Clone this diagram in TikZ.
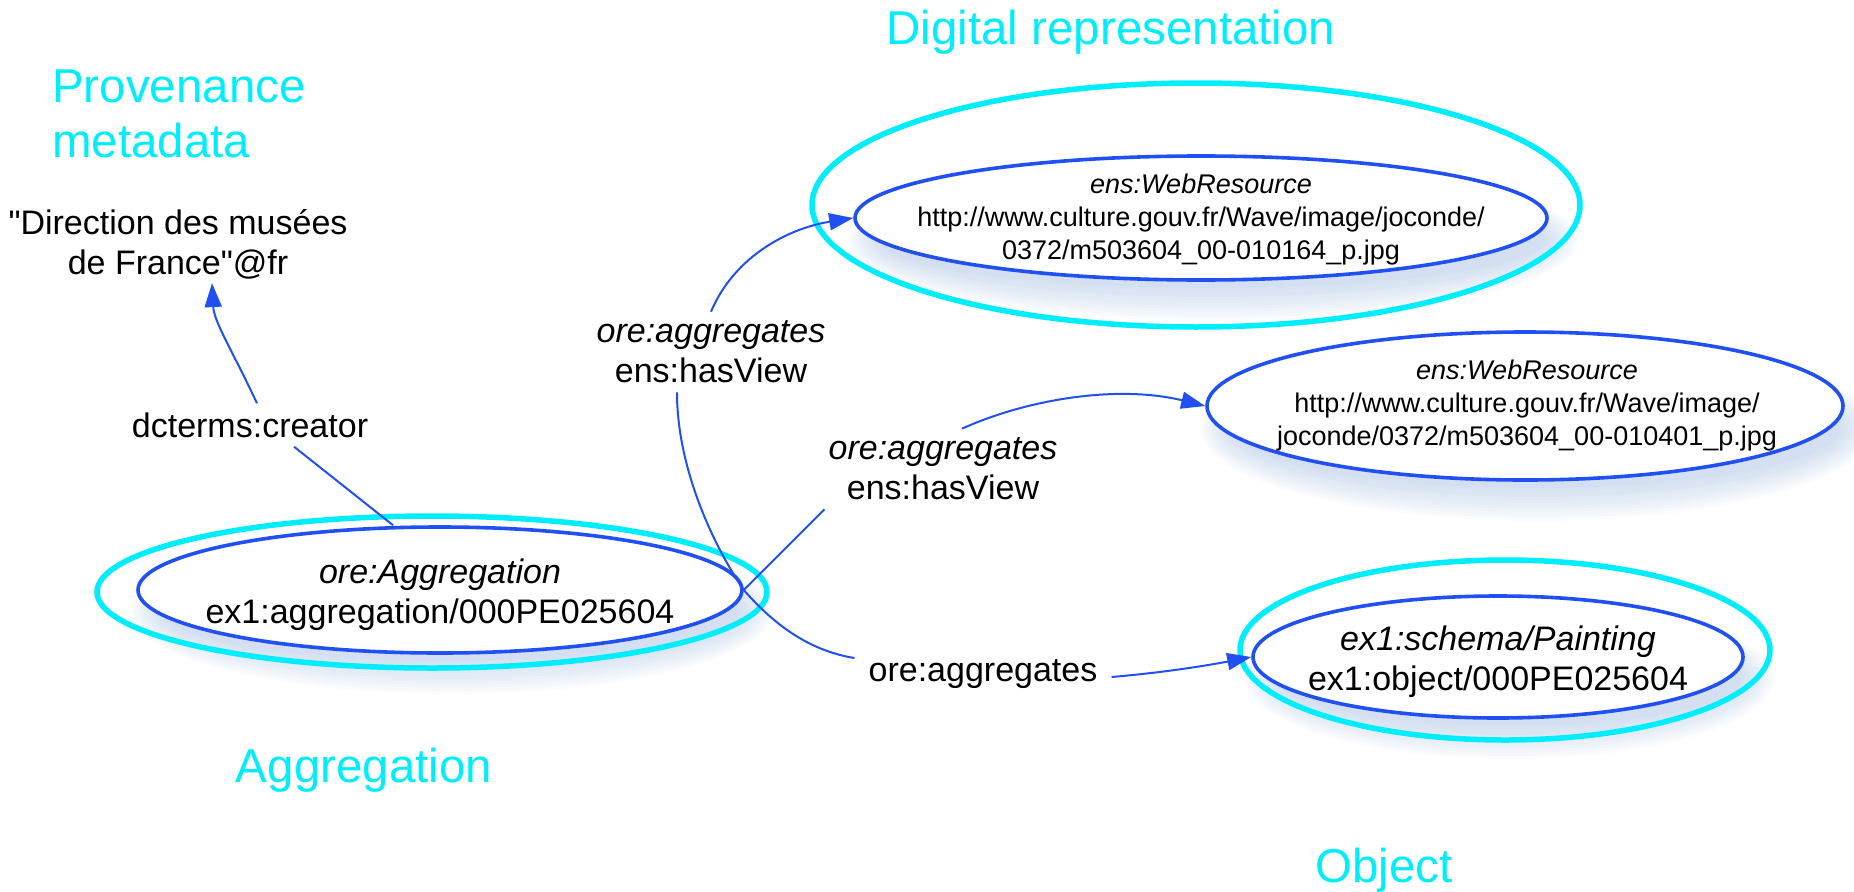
\documentclass[tikz,border=0pt]{standalone}
\usepackage{fontspec}
\setmainfont{Liberation Sans}
\usepackage{tikz}
\usetikzlibrary{calc}
\usetikzlibrary{arrows.meta}
\usetikzlibrary{shapes.geometric}
\usetikzlibrary{backgrounds}
\definecolor{myblue}{RGB}{32,80,242}
\definecolor{mycyan}{RGB}{0,238,252}
\definecolor{myshade}{RGB}{150,180,220}
\tikzset{>={Triangle[length=24pt,width=17pt]}}
\tikzset{
  resource/.style={ellipse, draw=myblue, line width=3.6pt, fill=white, inner sep=0pt},
  group/.style={ellipse, draw=mycyan, line width=5.5pt, inner sep=0pt},
  edge/.style={draw=myblue, line width=2pt},
  prop/.style={fill=white, inner xsep=14pt, inner ysep=9pt, align=center, font=\fontsize{34}{40}\selectfont},
  restext/.style={align=center, inner sep=0pt, font=\fontsize{34}{40}\selectfont},
  webtext/.style={align=center, inner sep=0pt, font=\fontsize{27}{33}\selectfont},
  literal/.style={align=center, inner sep=4pt, font=\fontsize{34}{40}\selectfont},
  title/.style={text=mycyan, inner sep=0pt, align=left, font=\fontsize{47.5}{55}\selectfont},
}

\begin{document}
\begin{tikzpicture}[x=1pt, y=-1pt]
                \useasboundingbox (0,0) rectangle (1854,891);

                % Group outlines
                \node[group, minimum width=768, minimum height=244] (grpdig) at (1196,205) {};
                \node[group, minimum width=670, minimum height=152] (grpagg) at (432,592) {};
                \node[group, minimum width=530, minimum height=180] (grpobj) at (1505,650) {};

                % Resources
                \node[resource, minimum width=604, minimum height=126,
                      label={[restext, yshift=-5pt]center:{\textit{ore:Aggregation}\\ex1:aggregation/000PE025604}}]
                      (agg) at (440,590) {};
                \node[resource, minimum width=692, minimum height=124,
                      label={[webtext, yshift=-2pt]center:{\textit{ens:WebResource}\\http://www.culture.gouv.fr/Wave/image/joconde/\\0372/m503604\_00-010164\_p.jpg}}]
                      (wr1) at (1201,218) {};
                \node[resource, minimum width=636, minimum height=148,
                      label={[webtext, xshift=2pt]center:{\textit{ens:WebResource}\\http://www.culture.gouv.fr/Wave/image/\\joconde/0372/m503604\_00-010401\_p.jpg}}]
                      (wr2) at (1525,406) {};
                \node[resource, minimum width=490, minimum height=122,
                      label={[restext, yshift=-5pt]center:{\textit{ex1:schema/Painting}\\ex1:object/000PE025604}}]
                      (obj) at (1498,657) {};

                % Literal
                \node[literal] (lit) at (178,244) {\textquotedbl Direction des musées\\de France\textquotedbl @fr};

                % Shadows
                \begin{scope}[on background layer]
                  \foreach \nd/\rx/\ry in {agg/302/63, wr1/346/62, wr2/318/74, obj/245/61}
                    \foreach \k in {0,...,11}
                      \fill[myshade, opacity=0.045] ($(\nd.center)+(12,22)$) ellipse [x radius={\rx-14+3*\k}, y radius={\ry-14+3*\k}];
                \end{scope}

                % Property labels
                \node[prop] (dct) at (250,425) {dcterms:creator};
                \node[prop] (hv1) at (711,352) {\textit{ore:aggregates}\\ens:hasView};
                \node[prop] (hv2) at (943,469) {\textit{ore:aggregates}\\ens:hasView};
                \node[prop] (ag3) at (983,674) {ore:aggregates};

                % Draw properties
                \draw[edge] ([xshift=-47pt]agg.north) -- ([xshift=44pt]dct.south);
                \draw[edge,->] ([xshift=7pt]dct.north) .. controls (232,350) and (214,322) .. ([xshift=34pt]lit.south);

                \draw[edge] (agg.east) .. controls (715,548) and (677,470) .. ([xshift=-34pt]hv1.south);
                \draw[edge,->] (hv1.north) .. controls (735,255) and (790,228) .. (wr1.west);

                \draw[edge] (agg.east) -- ([xshift=10pt]hv2.south west);
                \draw[edge,->] ([xshift=19pt]hv2.north) .. controls (1030,398) and (1120,385) .. (wr2.west);

                \draw[edge] (agg.east) .. controls (770,620) and (805,650) .. ([yshift=16pt]ag3.west);
                \draw[edge,->] ([yshift=-3pt]ag3.east) .. controls (1170,672) and (1215,664) .. (obj.west);

                % Titles
                \node[title, anchor=base] (tdig) at (1111,45) {Digital representation};
                \node[title, anchor=north west] (tprov) at (52,70) {Provenance\\metadata};
                \node[title, anchor=base] (tagg) at (364,782) {Aggregation};
                \node[title, anchor=base] (tobj) at (1384,882) {Object};
            \end{tikzpicture}
\end{document}
